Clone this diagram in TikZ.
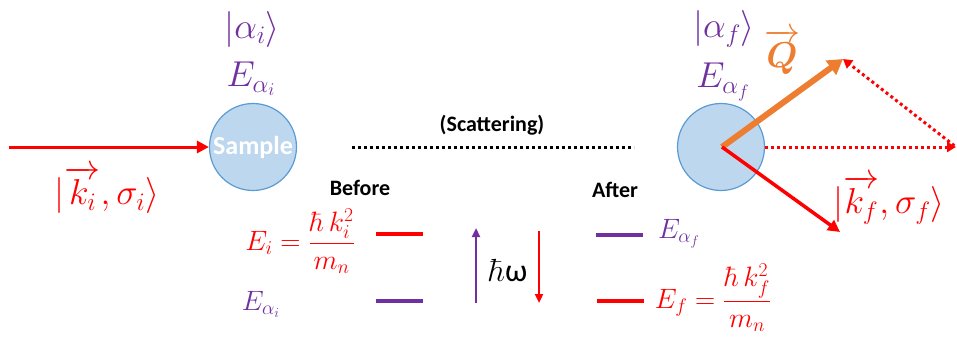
\RequirePackage{fix-cm}
\documentclass[tikz,border=0pt]{standalone}
\usepackage{fontspec}
\usepackage{amsmath,bm}
\usetikzlibrary{arrows.meta}
\newfontfamily\carl{Carlito}
\definecolor{sred}{RGB}{255,0,0}
\definecolor{spurple}{RGB}{112,48,160}
\definecolor{sorange}{RGB}{237,125,49}
\definecolor{sfill}{RGB}{189,215,238}
\definecolor{sedge}{RGB}{91,155,213}
\begin{document}
\begin{tikzpicture}[x=1pt,y=-1pt,
  big/.style={font=\fontsize{36}{42}\selectfont, inner sep=0},
  small/.style={font=\fontsize{28}{32}\selectfont, inner sep=0},
  boldlbl/.style={font=\carl\bfseries\fontsize{22}{26}\selectfont, inner sep=0},
  samplebox/.style={circle, draw=sedge, fill=sfill, line width=1.2pt, minimum size=87pt, inner sep=0},
  redarrow/.style={draw=sred, line width=3pt, -{Triangle[length=12pt,width=12pt]}},
  reddot/.style={draw=sred, line width=3pt, dash pattern=on 3pt off 3pt, -{Triangle[length=9pt,width=10pt]}},
  levelline/.style={line width=3.5pt},
  gaparrow/.style={line width=2.2pt, -{Triangle[length=9pt,width=8pt]}}]
\useasboundingbox (0,0) rectangle (957,340);

% left sample
\node[samplebox] (s1) at (253,147) {};
\node[font=\carl\bfseries\fontsize{26}{30}\selectfont, text=white, inner sep=0] (samplelbl) at (s1) {Sample};
\coordinate (src) at (9,147);
\draw[redarrow] (src) -- (s1.west);
\node[big, text=sred] (kilbl) at (107,190) {$|\overrightarrow{k_i},\sigma_i\rangle$};
\node[big, text=spurple] (ailbl) at (252,29) {$|\alpha_i\rangle$};
\node[big, text=spurple] (eailbl) at (251,79) {$E_{\alpha_i}$};

% middle
\node[boldlbl] (scat) at (492,125) {(Scattering)};
\coordinate (dl) at (352,147);
\coordinate (dr) at (634,147);
\draw[line width=3pt, dash pattern=on 3pt off 3pt] (dl) -- (dr);
\node[boldlbl] (before) at (360,188) {Before};
\node[boldlbl] (after) at (615,190) {After};

% before levels
\node[small, text=sred] (eilbl) at (300,241) {$E_i=\dfrac{\hbar\,k_i^2}{m_n}$};
\node[small, text=spurple] (eaisml) at (261,304) {$E_{\alpha_i}$};
\coordinate (l1a) at (376,234); \coordinate (l1b) at (423,234);
\coordinate (l2a) at (376,301); \coordinate (l2b) at (423,301);
\draw[levelline, sred] (l1a) -- (l1b);
\draw[levelline, spurple] (l2a) -- (l2b);

% energy transfer
\coordinate (ua) at (476,303); \coordinate (ub) at (476,228);
\coordinate (da) at (539,231); \coordinate (db) at (539,303);
\draw[gaparrow, spurple] (ua) -- (ub);
\draw[gaparrow, sred] (da) -- (db);
\node[inner sep=0, font=\fontsize{32}{36}\selectfont] (hw) at (508,271) {$\hbar$\carl ω};

% after levels
\coordinate (r1a) at (596,235); \coordinate (r1b) at (643,235);
\coordinate (r2a) at (597,301); \coordinate (r2b) at (644,301);
\draw[levelline, spurple] (r1a) -- (r1b);
\draw[levelline, sred] (r2a) -- (r2b);
\node[small, text=spurple] (eafsml) at (679,234) {$E_{\alpha_f}$};
\node[small, text=sred] (eflbl) at (713,298) {$E_f=\dfrac{\hbar\,k_f^2}{m_n}$};

% right sample
\node[samplebox] (s2) at (721,147) {};
\coordinate (c2) at (722,147);
\coordinate (qtip) at (843,59);
\coordinate (kftip) at (840,232);
\coordinate (kitip) at (956,147);
\draw[reddot] (s2.east) -- (kitip);
\draw[reddot, shorten <=2pt] (kitip) -- (qtip);
\draw[draw=sorange, line width=6pt, -{Triangle[length=15pt,width=17pt]}] (c2) -- (qtip);
\draw[redarrow, line width=3.5pt] (c2) -- (kftip);
\node[big, text=spurple] (aflbl) at (724,29) {$|\alpha_f\rangle$};
\node[big, text=spurple] (eaflbl) at (723,82) {$E_{\alpha_f}$};
\node[big, text=sorange] (qlbl) at (782,52) {$\overrightarrow{\bm{Q}}$};
\node[big, text=sred] (kflbl) at (889,200) {$|\overrightarrow{k_f},\sigma_f\rangle$};
\end{tikzpicture}
\end{document}
